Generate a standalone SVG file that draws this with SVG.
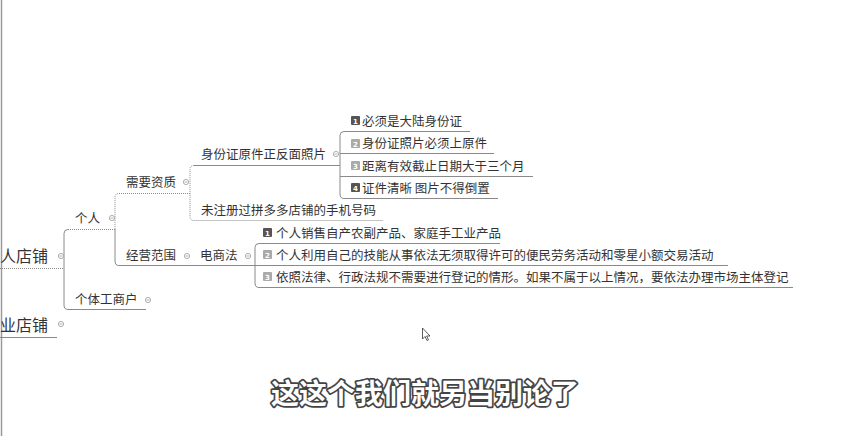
<svg xmlns="http://www.w3.org/2000/svg" width="854" height="436" viewBox="0 0 854 436">
<style>
.t{font-family:"Noto Sans CJK SC","Noto Sans",sans-serif;font-size:12.5px;fill:#333}
.r{font-family:"Noto Sans CJK SC","Noto Sans",sans-serif;font-size:16px;fill:#333}
.ln{fill:none;stroke:#8a8a8a;stroke-width:1}
.dt{fill:none;stroke:#8a8a8a;stroke-width:1;stroke-dasharray:1 1}
.c{fill:#fff;stroke:#999;stroke-width:0.8}
.cm{stroke:#999;stroke-width:0.8}
.ic{fill:#aaa}
.icd{fill:#555}
.in{font-family:"DejaVu Sans",sans-serif;font-size:7px;fill:#fff;text-anchor:middle;font-weight:bold}
.sub{font-family:"Noto Sans CJK SC",sans-serif;font-size:28px;font-weight:bold;fill:#fff;stroke:#444;stroke-width:3.5;paint-order:stroke;stroke-linejoin:round;text-anchor:middle}
</style>
<defs>
<g id="col"><circle class="c" cx="0" cy="0" r="2.6"/><line class="cm" x1="-1.4" y1="0" x2="1.4" y2="0"/></g>
</defs>
<rect width="854" height="436" fill="#fff"/>
<line x1="1.5" y1="0" x2="1.5" y2="436" stroke="#9a9a9a" stroke-width="1.5"/>

<g id="connectors">
<line class="dt" x1="0" y1="268.5" x2="64" y2="268.5"/>
<line class="ln" x1="0" y1="337.5" x2="57" y2="337.5"/>
<path class="dt" d="M115,229.5 H68"/>
<path class="ln" d="M68,229.5 Q64,229.5 64,233.5 V305 Q64,309.5 68,309.5 H146"/>
<path class="dt" d="M190,193.5 H119 Q115,193.5 115,197.5 V229"/>
<path class="ln" d="M115,229 V261 Q115,265.5 119,265.5 H255"/>
<path class="ln" d="M340,165.5 H194"/>
<path class="dt" d="M194,165.5 Q190,165.5 190,169.5 V216 Q190,220.5 194,220.5 H383"/>
<path class="ln" d="M470,131.5 H344 Q340,131.5 340,135.5 V194 Q340,198.5 344,198.5 H498"/>
<line class="ln" x1="340" y1="153.5" x2="494" y2="153.5"/>
<line class="ln" x1="340" y1="176.5" x2="533" y2="176.5"/>
<path class="ln" d="M500,243.5 H259 Q255,243.5 255,247.5 V283 Q255,287.5 259,287.5 H793"/>
<line class="ln" x1="255" y1="265.5" x2="728" y2="265.5"/>
</g>

<g id="root1"><text class="r" x="0" y="262">人店铺</text><use href="#col" x="61" y="256"/></g>
<g id="root2"><text class="r" x="0" y="331">业店铺</text><use href="#col" x="61" y="324"/></g>
<g id="geren"><text class="t" x="75" y="223">个人</text><use href="#col" x="112" y="218"/></g>
<g id="getihu"><text class="t" x="75" y="304">个体工商户</text><use href="#col" x="148" y="300"/></g>
<g id="xuyao"><text class="t" x="126" y="187">需要资质</text><use href="#col" x="186" y="182"/></g>
<g id="jingying"><text class="t" x="126" y="260">经营范围</text><use href="#col" x="187" y="256"/></g>
<g id="shenfen"><text class="t" x="201" y="159">身份证原件正反面照片</text><use href="#col" x="336" y="154"/></g>
<g id="weizhuce"><text class="t" x="201" y="215">未注册过拼多多店铺的手机号码</text></g>
<g id="dianshang"><text class="t" x="200" y="260">电商法</text><use href="#col" x="248" y="256"/></g>

<g id="s1"><rect class="icd" x="351" y="116" width="9" height="9" rx="1"/><text class="in" x="355.5" y="123.5">1</text><text class="t" x="362" y="126">必须是大陆身份证</text></g>
<g id="s2"><rect class="ic" x="351" y="139" width="9" height="9" rx="1"/><text class="in" x="355.5" y="146.5">2</text><text class="t" x="362" y="148">身份证照片必须上原件</text></g>
<g id="s3"><rect class="ic" x="351" y="161" width="9" height="9" rx="1"/><text class="in" x="355.5" y="168.5">3</text><text class="t" x="362" y="171">距离有效截止日期大于三个月</text></g>
<g id="s4"><rect class="icd" x="351" y="183" width="9" height="9" rx="1"/><text class="in" x="355.5" y="190.5">4</text><text class="t" x="362" y="193">证件清晰 图片不得倒置</text></g>

<g id="d1"><rect class="icd" x="263" y="228" width="9" height="9" rx="1"/><text class="in" x="267.5" y="235.5">1</text><text class="t" x="276" y="238">个人销售自产农副产品、家庭手工业产品</text></g>
<g id="d2"><rect class="ic" x="263" y="250" width="9" height="9" rx="1"/><text class="in" x="267.5" y="257.5">2</text><text class="t" x="276" y="260">个人利用自己的技能从事依法无须取得许可的便民劳务活动和零星小额交易活动</text></g>
<g id="d3"><rect class="ic" x="263" y="272" width="9" height="9" rx="1"/><text class="in" x="267.5" y="279.5">3</text><text class="t" x="276" y="282">依照法律、行政法规不需要进行登记的情形。如果不属于以上情况，要依法办理市场主体登记</text></g>

<path d="M422.5,328 V339 L425,336.5 L427,340.5 L428.5,339.8 L426.6,336 L430,336 Z" fill="#fff" stroke="#333" stroke-width="0.8" stroke-linejoin="round"/>

<text class="sub" x="425" y="404">这这个我们就另当别论了</text>
</svg>
